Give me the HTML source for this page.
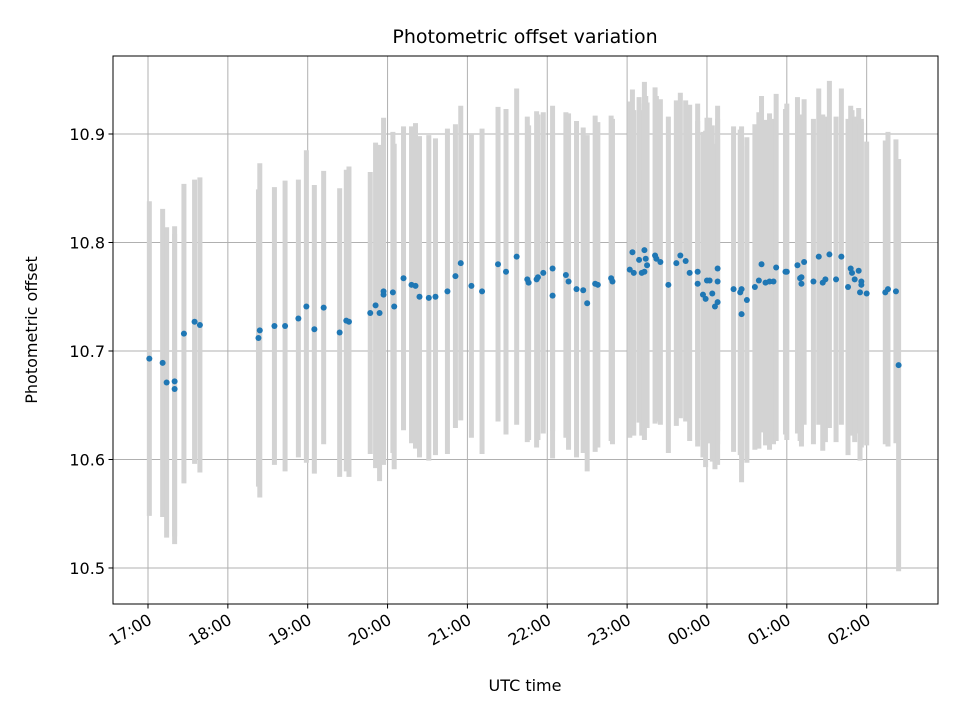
<!DOCTYPE html>
<html><head><meta charset="utf-8"><style>
html,body{margin:0;padding:0;background:#fff}
svg{display:block;font-family:"DejaVu Sans","Liberation Sans",sans-serif}
</style></head><body>
<svg id="chart" width="960" height="720" viewBox="0 0 960 720" xmlns="http://www.w3.org/2000/svg">
<rect x="0" y="0" width="960" height="720" fill="#fff"/>
<text x="525" y="43" text-anchor="middle" font-size="19">Photometric offset variation</text>
<g id="grid"></g>
<g id="bars"></g>
<g id="pts"></g>
<rect x="113" y="56" width="825" height="548" fill="none" stroke="#000" stroke-width="1"/>
<g id="axes"></g>
<text x="525" y="691" text-anchor="middle" font-size="16">UTC time</text>
<text transform="translate(37,330) rotate(-90)" text-anchor="middle" font-size="16">Photometric offset</text>
</svg>
<script>
// minutes since 17:00 UTC
const times=[1,11,14,20,20,27,35,39,83,84,95,103,113,119,125,132,144,149,151,167,171,174,177,177,184,185,192,198,201,204,211,216,225,231,235,243,251,263,269,277,285,286,292,293,297,304,304,314,316,322,327,330,336,338,348,349,362,364,365,369,371,373,373,374,375,381,382,385,391,397,400,404,407,413,413,417,419,420,422,424,426,428,428,428,440,445,446,446,450,456,459,461,464,467,470,472,479,480,488,490,491,493,491,500,504,507,509,512,517,521,526,528,529,531,534,535,536,536,540,554,556,562,564];
const values=[10.693,10.689,10.671,10.672,10.665,10.716,10.727,10.724,10.712,10.719,10.723,10.723,10.730,10.741,10.720,10.740,10.717,10.728,10.727,10.735,10.742,10.735,10.755,10.752,10.754,10.741,10.767,10.761,10.760,10.750,10.749,10.750,10.755,10.769,10.781,10.760,10.755,10.780,10.773,10.787,10.766,10.763,10.766,10.768,10.772,10.776,10.751,10.770,10.764,10.757,10.756,10.744,10.762,10.761,10.767,10.764,10.775,10.791,10.772,10.784,10.772,10.793,10.773,10.785,10.779,10.788,10.785,10.782,10.761,10.781,10.788,10.783,10.772,10.773,10.762,10.752,10.748,10.765,10.765,10.753,10.741,10.745,10.776,10.764,10.757,10.754,10.734,10.757,10.747,10.759,10.765,10.780,10.763,10.764,10.764,10.777,10.773,10.773,10.779,10.767,10.768,10.782,10.762,10.764,10.787,10.763,10.766,10.789,10.766,10.787,10.759,10.776,10.772,10.766,10.774,10.754,10.764,10.761,10.753,10.754,10.757,10.755,10.687];
const errors=[0.145,0.142,0.143,0.143,0.143,0.138,0.131,0.136,0.137,0.154,0.128,0.134,0.128,0.144,0.133,0.126,0.133,0.139,0.143,0.130,0.150,0.155,0.160,0.145,0.148,0.150,0.140,0.146,0.150,0.148,0.150,0.146,0.150,0.140,0.145,0.140,0.150,0.145,0.150,0.155,0.150,0.145,0.155,0.150,0.148,0.150,0.150,0.150,0.155,0.155,0.150,0.155,0.155,0.150,0.150,0.150,0.155,0.150,0.150,0.150,0.150,0.155,0.155,0.150,0.150,0.155,0.150,0.150,0.155,0.150,0.150,0.148,0.155,0.155,0.150,0.150,0.155,0.150,0.150,0.155,0.150,0.150,0.150,0.150,0.150,0.150,0.155,0.150,0.150,0.150,0.155,0.155,0.150,0.155,0.150,0.160,0.150,0.155,0.155,0.150,0.150,0.150,0.150,0.150,0.155,0.155,0.150,0.160,0.150,0.155,0.155,0.150,0.150,0.150,0.150,0.155,0.150,0.150,0.140,0.140,0.145,0.140,0.190];
const xTickLabels=["17:00","18:00","19:00","20:00","21:00","22:00","23:00","00:00","01:00","02:00"];
const xTickMinutes=[0,60,120,180,240,300,360,420,480,540];
const yTickValues=[10.5,10.6,10.7,10.8,10.9];

const X0=113,X1=938,Y0=56,Y1=604;
const tMin=-26.3,tMax=593.6,vMin=10.4668,vMax=10.9719;
const xs=t=>X0+(t-tMin)/(tMax-tMin)*(X1-X0);
const ys=v=>Y1-(v-vMin)/(vMax-vMin)*(Y1-Y0);
const NS="http://www.w3.org/2000/svg";
function mk(tag,attrs,parent){const e=document.createElementNS(NS,tag);for(const k in attrs)e.setAttribute(k,attrs[k]);parent.appendChild(e);return e;}
const grid=document.getElementById('grid'),axes=document.getElementById('axes');
const bars=document.getElementById('bars'),pts=document.getElementById('pts');

xTickMinutes.forEach((m,i)=>{
  const x=xs(m);
  const g=mk('line',{x1:x,x2:x,y1:Y0,y2:Y1,stroke:'#b0b0b0','stroke-width':1},grid);
  
  
  const t=mk('line',{x1:x,x2:x,y1:Y1,y2:Y1+4.5,stroke:'#000','stroke-width':1},axes);
  
  
  const lb=mk('text',{x:0,y:0,'font-size':16,'text-anchor':'end',transform:`translate(${x+5},${Y1+19}) rotate(-30)`},axes);
  lb.textContent=xTickLabels[i];
  
  
});
yTickValues.forEach(v=>{
  const y=ys(v);
  const g=mk('line',{x1:X0,x2:X1,y1:y,y2:y,stroke:'#b0b0b0','stroke-width':1},grid);
  
  
  const t=mk('line',{x1:X0-4.5,x2:X0,y1:y,y2:y,stroke:'#000','stroke-width':1},axes);
  
  
  const lb=mk('text',{x:X0-8,y:y+6,'font-size':16,'text-anchor':'end'},axes);
  lb.textContent=v.toFixed(1);
  
  
});
times.forEach((m,i)=>{
  const x=xs(m);
  const b=mk('line',{x1:x,x2:x,y1:ys(values[i]+errors[i]),y2:ys(values[i]-errors[i]),stroke:'#d3d3d3','stroke-width':5},bars);
  
  
});
times.forEach((m,i)=>{
  const c=mk('circle',{cx:xs(m),cy:ys(values[i]),r:3,fill:'#1f77b4'},pts);
  
  
});
</script>
</body></html>
